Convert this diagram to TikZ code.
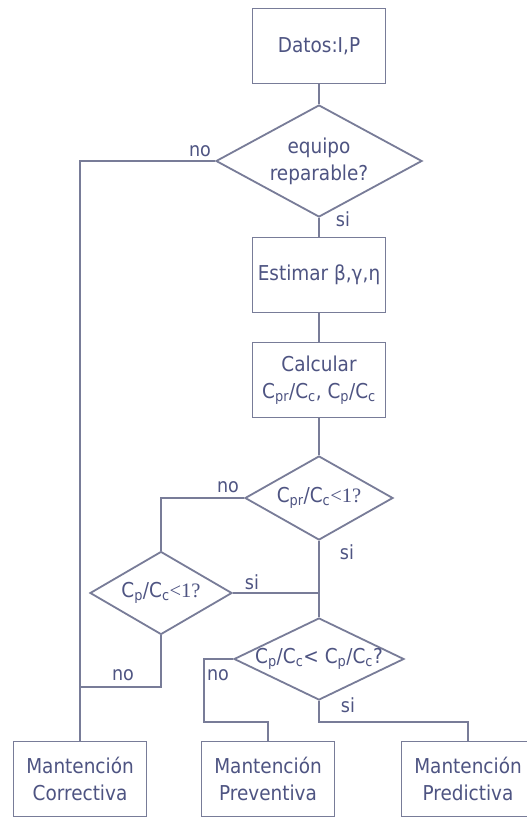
\documentclass[tikz,border=0pt]{standalone}
\usepackage{fontspec}
\setmainfont{DejaVu Sans}[FakeStretch=0.9]
\newfontfamily\serifpart{Liberation Serif}
\usetikzlibrary{shapes.geometric}
\definecolor{ln}{RGB}{120,124,152}
\definecolor{tx}{RGB}{78,84,130}
\newcommand{\sbs}[1]{\textsubscript{#1}}
\begin{document}
\begin{tikzpicture}[x=1pt,y=-1pt,
  box/.style={draw=ln, line width=1.8pt, rectangle, minimum width=133pt, minimum height=75pt, inner sep=0pt, align=center, text=tx, font=\fontsize{20.5}{27}\selectfont},
  dia/.style={draw=ln, line width=1.8pt, diamond, inner sep=0pt},
  txt/.style={text=tx, align=center, inner sep=0pt, font=\fontsize{20.5}{27}\selectfont},
  lbl/.style={text=tx, inner sep=0pt, font=\fontsize{19.5}{22}\selectfont},
  conn/.style={draw=ln, line width=1.8pt}]
\useasboundingbox (0,0) rectangle (527,817);
\fill[white] (0,0) rectangle (527,817);
% boxes
\node[box] (datos) at (319,46) {Datos:I,P};
\node[box] (est) at (319,275) {Estimar β,γ,η};
\node[box] (calc) at (319,380) {Calcular\\C\sbs{pr}/C\sbs{c}, C\sbs{p}/C\sbs{c}};
\node[box] (corr) at (80,779) {Mantención\\Correctiva};
\node[box] (prev) at (268,779) {Mantención\\Preventiva};
\node[box] (pred) at (468,779) {Mantención\\Predictiva};
% diamonds
\node[dia, minimum width=206pt, minimum height=112pt] (d1) at (319,161) {};
\node[txt] at (d1) {equipo\\reparable?};
\node[dia, minimum width=148pt, minimum height=84pt] (d2) at (319,498) {};
\node[txt] at (d2) {C\sbs{pr}/C\sbs{c}{\serifpart <1?}};
\node[dia, minimum width=142pt, minimum height=83pt] (d3) at (161,593) {};
\node[txt] at (d3) {C\sbs{p}/C\sbs{c}{\serifpart <1?}};
\node[dia, minimum width=170pt, minimum height=82pt] (d4) at (319,659) {};
\node[txt] at (d4) {C\sbs{p}/C\sbs{c}< C\sbs{p}/C\sbs{c}?};
% coordinates
\coordinate (c3) at (80,687);
\coordinate (c4) at (204,722);
\coordinate (c5) at (319,722);
% connectors
\draw[conn] (datos.south) -- (d1.north);
\draw[conn] (d1.west) -| (corr.north);
\draw[conn] (d1.south) -- (est.north);
\draw[conn] (est.south) -- (calc.north);
\draw[conn] (calc.south) -- (d2.north);
\draw[conn] (d2.west) -| (d3.north);
\draw[conn] (d2.south) -- (d4.north);
\draw[conn] (d3.east) -- (d3.east -| d2.south);
\draw[conn] (d3.south) |- (c3);
\draw[conn] (d4.west) -| (c4) -| (prev.north);
\draw[conn] (d4.south) -- (c5) -| (pred.north);
% labels
\node[lbl] at (200,151) {no};
\node[lbl] at (343,219) {si};
\node[lbl] at (228,487) {no};
\node[lbl] at (347,552) {si};
\node[lbl] at (252,582) {si};
\node[lbl] at (123,675) {no};
\node[lbl] at (218,675) {no};
\node[lbl] at (348,705) {si};
\end{tikzpicture}
\end{document}
